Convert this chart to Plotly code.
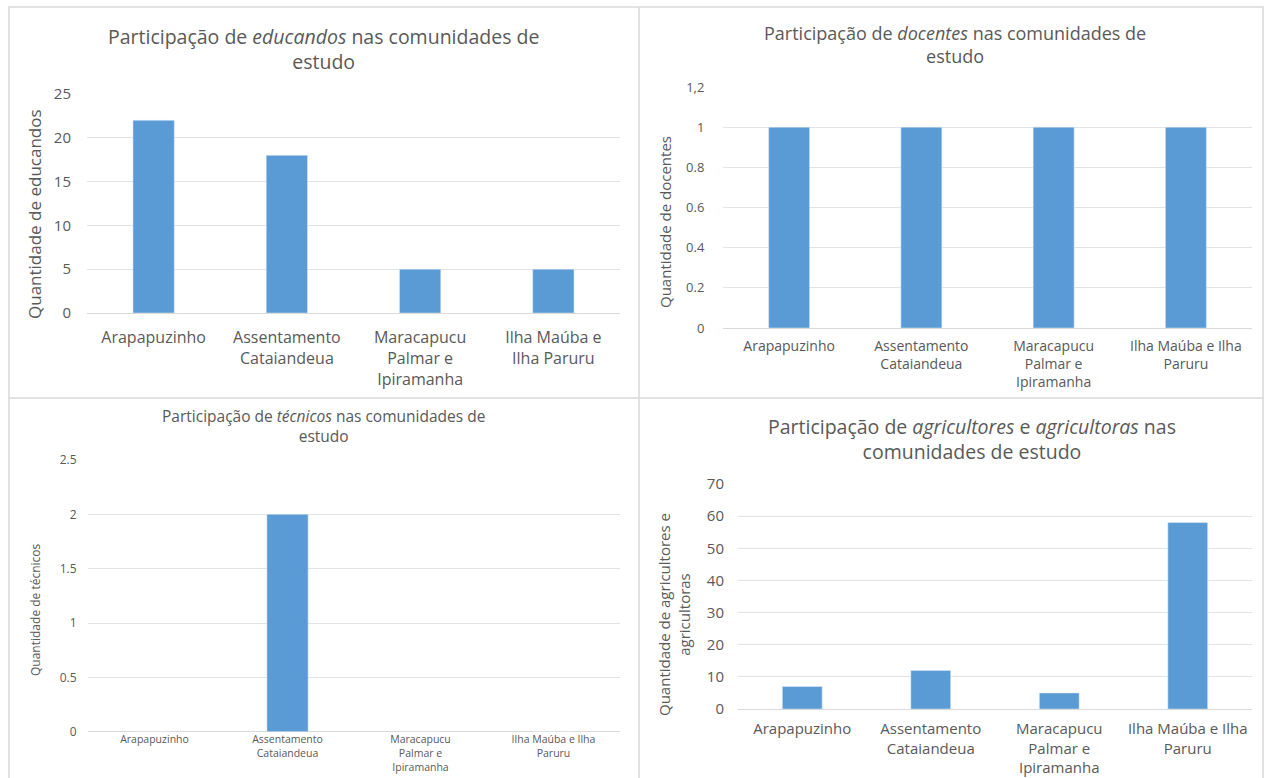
import plotly.graph_objects as go

W, H = 1269, 778

categories = ["Arapapuzinho", "Assentamento Cataiandeua", "Maracapucu Palmar e Ipiramanha", "Ilha Maúba e Ilha Paruru"]
educandos = [22, 18, 5, 5]
docentes = [1, 1, 1, 1]
tecnicos = [0, 2, 0, 0]
agricultores = [7, 12, 5, 58]

labels_a = ["Arapapuzinho", "Assentamento<br>Cataiandeua", "Maracapucu<br>Palmar e<br>Ipiramanha", "Ilha Maúba e<br>Ilha Paruru"]
labels_b = ["Arapapuzinho", "Assentamento<br>Cataiandeua", "Maracapucu<br>Palmar e<br>Ipiramanha", "Ilha Maúba e Ilha<br>Paruru"]

ticks1 = [0, 5, 10, 15, 20, 25]
ticks2 = [0, 0.2, 0.4, 0.6, 0.8, 1, 1.2]
ticks2_text = ["0", "0.2", "0.4", "0.6", "0.8", "1", "1,2"]
ticks3 = [0, 0.5, 1, 1.5, 2, 2.5]
ticks3_text = ["0", "0.5", "1", "1.5", "2", "2.5"]
ticks4 = [0, 10, 20, 30, 40, 50, 60, 70]

titles = [
    "Participação de <i>educandos</i> nas comunidades de<br>estudo",
    "Participação de <i>docentes</i> nas comunidades de<br>estudo",
    "Participação de <i>técnicos</i> nas comunidades de<br>estudo",
    "Participação de <i>agricultores</i> e <i>agricultoras</i> nas<br>comunidades de estudo",
]
ytitles = [
    "Quantidade de educandos",
    "Quantidade de docentes",
    "Quantidade de técnicos",
    "Quantidade de agricultores e<br>agricultoras",
]

BAR = "#5B9BD5"
TXT = "#595959"
GRID = "#e3e3e3"
FONT = "Open Sans"


def px(x):
    return x / W


def py(y):
    return 1 - y / H


fig = go.Figure()
series = [educandos, docentes, tecnicos, agricultores]
for i, vals in enumerate(series):
    suffix = "" if i == 0 else str(i + 1)
    fig.add_trace(go.Bar(x=categories, y=vals, marker_color=BAR, xaxis="x" + suffix, yaxis="y" + suffix,
                         showlegend=False, hoverinfo="x+y"))

# panel geometry (pixels)
panels = [
    dict(x=(87, 620), y=(94, 313), rng=[0, 25], tv=ticks1, tt=[str(t) for t in ticks1], lab=labels_a,
         tfs=16, yfs=15, xlen=10, ylen=12),
    dict(x=(723, 1252), y=(87, 328), rng=[0, 1.2], tv=ticks2, tt=ticks2_text, lab=labels_b,
         tfs=14, yfs=13, xlen=5, ylen=15),
    dict(x=(88, 620), y=(460, 731.7), rng=[0, 2.5], tv=ticks3, tt=ticks3_text, lab=labels_b,
         tfs=10.5, yfs=12, xlen=0, ylen=8),
    dict(x=(738, 1252), y=(484, 709), rng=[0, 70], tv=ticks4, tt=[str(t) for t in ticks4], lab=labels_b,
         tfs=15, yfs=15, xlen=6, ylen=10),
]

layout = {}
for i, p in enumerate(panels):
    suffix = "" if i == 0 else str(i + 1)
    layout["xaxis" + suffix] = dict(
        domain=[px(p["x"][0]), px(p["x"][1])], anchor="y" + suffix,
        categoryorder="array", categoryarray=categories,
        tickmode="array", tickvals=categories, ticktext=p["lab"],
        tickfont=dict(family=FONT, size=p["tfs"], color=TXT),
        ticks="outside" if p["xlen"] > 0 else "", ticklen=max(p["xlen"], 1), tickcolor="rgba(0,0,0,0)",
        showgrid=False, showline=False, zeroline=False, fixedrange=True, tickangle=0,
        automargin=False,
    )
    layout["yaxis" + suffix] = dict(
        domain=[py(p["y"][1]), py(p["y"][0])], anchor="x" + suffix,
        range=p["rng"], tickmode="array", tickvals=p["tv"], ticktext=p["tt"],
        tickfont=dict(family=FONT, size=p["yfs"], color=TXT),
        ticks="outside", ticklen=p["ylen"], tickcolor="rgba(0,0,0,0)",
        showgrid=True, gridcolor=GRID, gridwidth=1,
        zeroline=True, zerolinecolor="#d9d9d9", zerolinewidth=1,
        showline=False, fixedrange=True, automargin=False,
    )

annotations = []
title_pos = [(323, 48.5, 19.5), (955, 44, 18), (323, 426.5, 15.5), (972, 439.5, 19.5)]
for t, (x, y, s) in zip(titles, title_pos):
    annotations.append(dict(text=t, x=px(x), y=py(y), xref="paper", yref="paper", showarrow=False,
                            xanchor="center", yanchor="middle", align="center",
                            font=dict(family=FONT, size=s, color=TXT)))

ytitle_pos = [(35, 214, 17), (665, 222, 15), (35, 610, 12), (674, 615, 15)]
for t, (x, y, s) in zip(ytitles, ytitle_pos):
    annotations.append(dict(text=t, x=px(x), y=py(y), xref="paper", yref="paper", showarrow=False,
                            xanchor="center", yanchor="middle", align="center", textangle=-90,
                            font=dict(family=FONT, size=s, color=TXT)))

shapes = [
    dict(type="rect", xref="paper", yref="paper", x0=px(9), x1=px(1263), y0=py(790), y1=py(7),
         line=dict(color="#d9d9d9", width=1.5), fillcolor="rgba(0,0,0,0)", layer="below"),
    dict(type="line", xref="paper", yref="paper", x0=px(639), x1=px(639), y0=py(7), y1=py(790),
         line=dict(color="#d9d9d9", width=1.5), layer="below"),
    dict(type="line", xref="paper", yref="paper", x0=px(9), x1=px(1263), y0=py(398), y1=py(398),
         line=dict(color="#d9d9d9", width=1.5), layer="below"),
]

fig.update_layout(
    width=W, height=H, margin=dict(l=0, r=0, t=0, b=0, autoexpand=False),
    paper_bgcolor="white", plot_bgcolor="white",
    bargap=0.69, showlegend=False,
    annotations=annotations, shapes=shapes,
    font=dict(family=FONT, color=TXT),
    **layout,
)

fig.write_html("out.html", config={"displayModeBar": False})
